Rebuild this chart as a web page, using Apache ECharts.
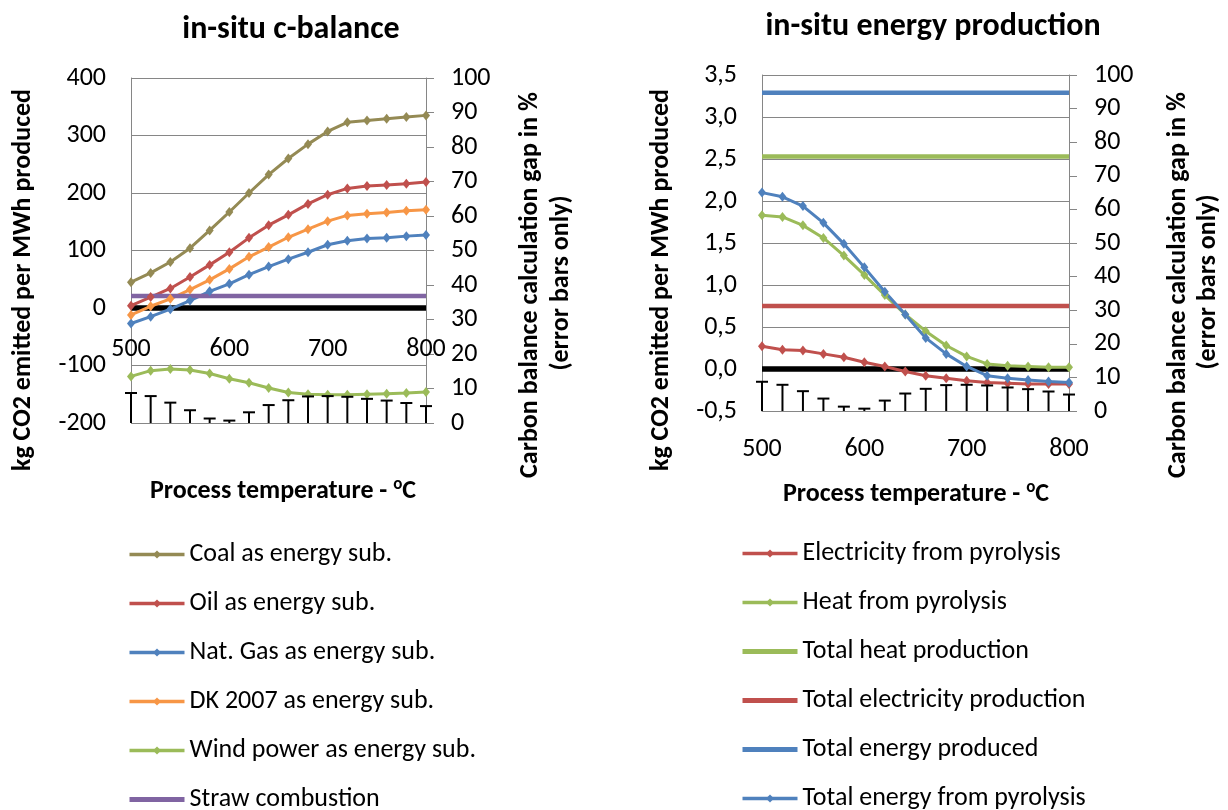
<!DOCTYPE html>
<html>
<head>
<meta charset="utf-8">
<script src="https://cdn.jsdelivr.net/npm/echarts@6/dist/echarts.min.js"></script>
<style>
  html, body { margin: 0; padding: 0; background: #ffffff; }
  #chart { width: 1228px; height: 810px; }
</style>
</head>
<body>
<div id="chart"></div>
<script>
// Process temperature (°C) for every sample point
const temps = [500, 520, 540, 560, 580, 600, 620, 640, 660, 680, 700, 720, 740, 760, 780, 800];

// in-situ c-balance: kg CO2 emitted per MWh produced
const coal   = [45, 61, 80, 104, 135, 167, 200, 232, 260, 285, 307, 323, 326, 329, 332, 335];
const oil    = [4, 19, 34, 54, 75, 97, 122, 144, 162, 181, 197, 208, 212, 214, 216, 219];
const natGas = [-27, -15, -2, 13, 29, 42, 58, 72, 85, 97, 110, 117, 121, 122, 125, 127];
const dk2007 = [-12, 3, 16, 32, 49, 68, 89, 106, 123, 137, 151, 161, 164, 166, 169, 171];
const wind   = [-119, -109, -106, -108, -114, -123, -130, -139, -147, -150, -151, -151, -150, -149, -148, -146];
const straw  = [21, 21, 21, 21, 21, 21, 21, 21, 21, 21, 21, 21, 21, 21, 21, 21];

// in-situ energy production
const elecPyro   = [0.27, 0.23, 0.22, 0.18, 0.14, 0.08, 0.03, -0.03, -0.08, -0.11, -0.14, -0.16, -0.17, -0.18, -0.18, -0.18];
const heatPyro   = [1.83, 1.81, 1.71, 1.56, 1.35, 1.12, 0.88, 0.65, 0.45, 0.28, 0.15, 0.06, 0.04, 0.03, 0.02, 0.02];
const totalHeat  = [2.53, 2.53, 2.53, 2.53, 2.53, 2.53, 2.53, 2.53, 2.53, 2.53, 2.53, 2.53, 2.53, 2.53, 2.53, 2.53];
const totalElec  = [0.75, 0.75, 0.75, 0.75, 0.75, 0.75, 0.75, 0.75, 0.75, 0.75, 0.75, 0.75, 0.75, 0.75, 0.75, 0.75];
const totalEnergy = [3.29, 3.29, 3.29, 3.29, 3.29, 3.29, 3.29, 3.29, 3.29, 3.29, 3.29, 3.29, 3.29, 3.29, 3.29, 3.29];
const energyPyro = [2.10, 2.05, 1.94, 1.74, 1.49, 1.21, 0.92, 0.65, 0.37, 0.18, 0.03, -0.08, -0.11, -0.13, -0.15, -0.16];

// Carbon balance calculation gap in % (drawn as error bars)
const carbonGap = [8.7, 7.8, 5.9, 3.7, 1.3, 0.7, 3.1, 5.2, 6.6, 7.7, 7.8, 7.6, 7.0, 6.5, 5.8, 4.9];

// Zero reference level
const zeroLevel = [0, 0, 0, 0, 0, 0, 0, 0, 0, 0, 0, 0, 0, 0, 0, 0];

const leftTicks = { min: -200, max: 400, interval: 100 };
const rightTicks = { min: -0.5, max: 3.5, interval: 0.5 };
const gapTicks = { min: 0, max: 100, interval: 10 };

const FONT = 'Carlito, Lato, sans-serif';
const GRAY = '#868686';
const C = {
  olive: '#948A54', red: '#C0504D', blue: '#4F81BD',
  orange: '#F79646', green: '#9BBB59', purple: '#8064A2'
};

const pairs = arr => temps.map((t, i) => [t, arr[i]]);

function markerLine(name, arr, color, xi, yi) {
  return {
    name, type: 'line', xAxisIndex: xi, yAxisIndex: yi,
    data: pairs(arr),
    symbol: 'diamond', symbolSize: [8, 10], showSymbol: true,
    lineStyle: { color, width: 3 },
    itemStyle: { color },
    emphasis: { disabled: true },
    animation: false, z: 3
  };
}
function flatLine(name, arr, color, xi, yi) {
  return {
    name, type: 'line', xAxisIndex: xi, yAxisIndex: yi,
    data: pairs(arr),
    symbol: 'none',
    lineStyle: { color, width: 4.5 },
    itemStyle: { color },
    emphasis: { disabled: true },
    animation: false, z: 3
  };
}
function zeroLine(xi, yi) {
  return {
    name: 'zero', type: 'line', xAxisIndex: xi, yAxisIndex: yi,
    data: pairs(zeroLevel), symbol: 'none',
    lineStyle: { color: '#000', width: 5.5 },
    emphasis: { disabled: true }, silent: true, animation: false, z: 2
  };
}
function gapBars(xi, yi) {
  return {
    name: 'gap', type: 'custom', xAxisIndex: xi, yAxisIndex: yi,
    data: pairs(carbonGap),
    silent: true, animation: false, z: 4,
    renderItem(params, api) {
      const x = api.value(0), v = api.value(1);
      const p0 = api.coord([x, 0]);
      const p1 = api.coord([x, v]);
      const st = { stroke: '#000', lineWidth: 2 };
      return {
        type: 'group',
        children: [
          { type: 'line', shape: { x1: p0[0], y1: p0[1], x2: p1[0], y2: p1[1] }, style: st },
          { type: 'line', shape: { x1: p1[0] - 6, y1: p1[1], x2: p1[0] + 6, y2: p1[1] }, style: st }
        ]
      };
    }
  };
}

const labelStyle = { color: '#000', fontSize: 26, fontFamily: FONT, lineHeight: 26 };
const fmtComma = v => v.toFixed(1).replace('.', ',');

function xAxisDef(gridIndex, margin, lineColor) {
  return {
    type: 'value', gridIndex, min: 500, max: 800, interval: 100,
    axisLine: { show: true, onZero: false, lineStyle: { color: lineColor, width: 1 } },
    axisTick: { show: false },
    splitLine: { show: false },
    axisLabel: Object.assign({ margin }, labelStyle)
  };
}
function yLeftDef(gridIndex, ticks, formatter) {
  return Object.assign({
    type: 'value', gridIndex, position: 'left',
    axisLine: { show: true, onZero: false, lineStyle: { color: GRAY, width: 1 } },
    axisTick: { show: false },
    splitLine: { show: true, lineStyle: { color: GRAY, width: 1 } },
    axisLabel: Object.assign({ margin: 25, formatter }, labelStyle)
  }, ticks);
}
function yRightDef(gridIndex) {
  return Object.assign({
    type: 'value', gridIndex, position: 'right',
    axisLine: { show: true, onZero: false, lineStyle: { color: GRAY, width: 1 } },
    axisTick: { show: true, inside: false, length: 8, lineStyle: { color: GRAY, width: 1 } },
    splitLine: { show: false },
    axisLabel: Object.assign({ margin: 25 }, labelStyle)
  }, gapTicks);
}

function txt(text, x, y, opts) {
  return {
    type: 'text', x, y, rotation: (opts && opts.rotate) ? Math.PI / 2 : 0, silent: true,
    style: {
      text, fill: '#000', fontFamily: FONT,
      fontSize: (opts && opts.size) || 26, fontWeight: 'bold',
      align: 'center', verticalAlign: 'middle',
      textAlign: 'center', textVerticalAlign: 'middle'
    }
  };
}
function xTitle(x, y) {
  return {
    type: 'text', x, y, silent: true,
    style: {
      text: '{a|Process temperature - }{s|o}{a|C}',
      fill: '#000', fontFamily: FONT,
      align: 'center', verticalAlign: 'middle',
      textAlign: 'center', textVerticalAlign: 'middle',
      rich: {
        a: { fontSize: 26, fontWeight: 'bold', fontFamily: FONT, lineHeight: 30, fill: '#000', color: '#000' },
        s: { fontSize: 17, fontWeight: 'bold', fontFamily: FONT, lineHeight: 16, verticalAlign: 'top', fill: '#000', color: '#000' }
      }
    }
  };
}

const legendText = { color: '#000', fontSize: 26, fontFamily: FONT, lineHeight: 26 };
// legend entries: marker lines show a diamond, straight lines show a thicker bar only
const marked = name => ({ name, lineStyle: { width: 3.5 } });
const plain = name => ({ name, itemStyle: { opacity: 0 }, lineStyle: { width: 5 } });

const option = {
  backgroundColor: '#ffffff',
  animation: false,
  grid: [
    { left: 131, top: 78, width: 295, height: 345 },
    { left: 762, top: 75, width: 307, height: 336 }
  ],
  xAxis: [
    // labels of the first chart sit just under the zero line
    xAxisDef(0, -87, 'rgba(0,0,0,0)'),
    xAxisDef(1, 25, GRAY)
  ],
  yAxis: [
    yLeftDef(0, leftTicks, v => String(v)),
    yRightDef(0),
    yLeftDef(1, rightTicks, fmtComma),
    yRightDef(1)
  ],
  legend: [
    {
      orient: 'vertical', left: 127, top: 541.5, height: 290, padding: 0,
      itemWidth: 55, itemHeight: 10, itemGap: 23,
      textStyle: legendText, selectedMode: false,
      data: [marked('Coal as energy sub.'), marked('Oil as energy sub.'), marked('Nat. Gas as energy sub.'),
             marked('DK 2007 as energy sub.'), marked('Wind power as energy sub.'), plain('Straw combustion')]
    },
    {
      orient: 'vertical', left: 740, top: 540.5, height: 290, padding: 0,
      itemWidth: 55, itemHeight: 10, itemGap: 23,
      textStyle: legendText, selectedMode: false,
      data: [marked('Electricity from pyrolysis'), marked('Heat from pyrolysis'), plain('Total heat production'),
             plain('Total electricity production'), plain('Total energy produced'), marked('Total energy from pyrolysis')]
    }
  ],
  series: [
    zeroLine(0, 0),
    markerLine('Coal as energy sub.', coal, C.olive, 0, 0),
    markerLine('Oil as energy sub.', oil, C.red, 0, 0),
    markerLine('Nat. Gas as energy sub.', natGas, C.blue, 0, 0),
    markerLine('DK 2007 as energy sub.', dk2007, C.orange, 0, 0),
    markerLine('Wind power as energy sub.', wind, C.green, 0, 0),
    flatLine('Straw combustion', straw, C.purple, 0, 0),
    gapBars(0, 1),

    zeroLine(1, 2),
    markerLine('Electricity from pyrolysis', elecPyro, C.red, 1, 2),
    markerLine('Heat from pyrolysis', heatPyro, C.green, 1, 2),
    flatLine('Total heat production', totalHeat, C.green, 1, 2),
    flatLine('Total electricity production', totalElec, C.red, 1, 2),
    flatLine('Total energy produced', totalEnergy, C.blue, 1, 2),
    markerLine('Total energy from pyrolysis', energyPyro, C.blue, 1, 2),
    gapBars(1, 3)
  ],
  graphic: [
    txt('in-situ c-balance', 291, 30, { size: 32 }),
    txt('in-situ energy production', 933, 27, { size: 32 }),
    txt('kg CO2 emitted per MWh produced', 23, 280, { rotate: true }),
    txt('Carbon balance calculation gap in %', 530, 285, { rotate: true }),
    txt('(error bars only)', 561, 283, { rotate: true }),
    txt('kg CO2 emitted per MWh produced', 661, 280, { rotate: true }),
    txt('Carbon balance calculation gap in %', 1178, 285, { rotate: true }),
    txt('(error bars only)', 1208, 282, { rotate: true }),
    xTitle(283, 491),
    xTitle(916, 494)
  ]
};

const chart = echarts.init(document.getElementById('chart'), null, { renderer: 'canvas' });
chart.setOption(option);
</script>
</body>
</html>
